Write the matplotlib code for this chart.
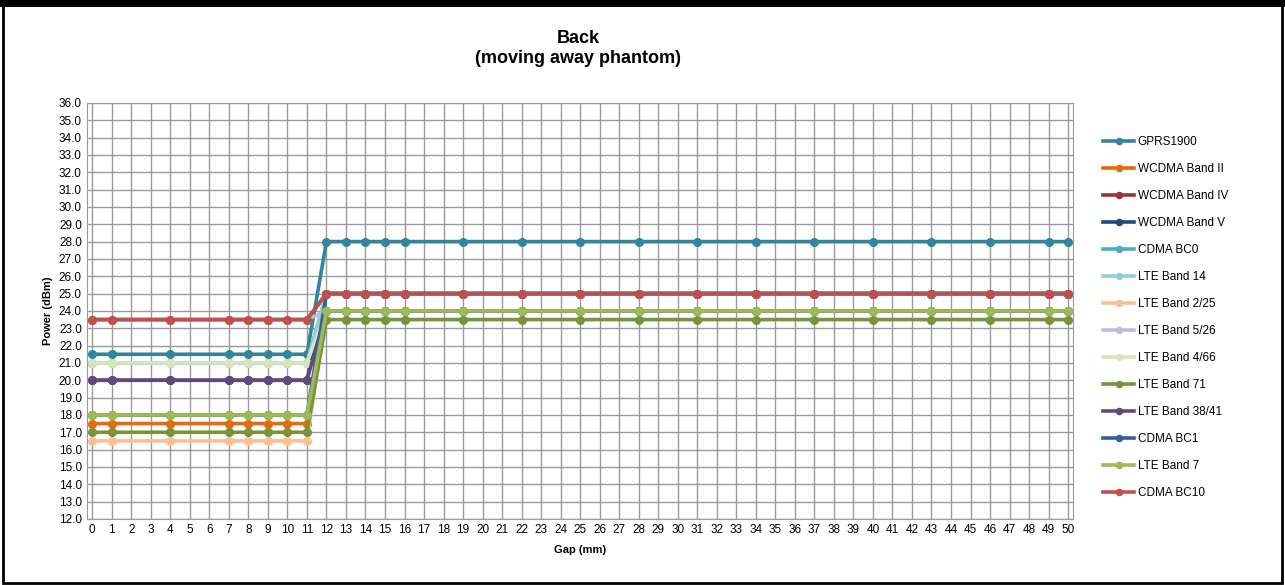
import matplotlib.pyplot as plt
from matplotlib.patches import Rectangle

plt.rcParams['font.family'] = ['Liberation Sans', 'DejaVu Sans']

gap = [0, 1, 4, 7, 8, 9, 10, 11, 12, 13, 14, 15, 16, 19, 22, 25, 28, 31, 34, 37, 40, 43, 46, 49, 50]
n_near = 8  # points at gap 0..11
n_far = len(gap) - n_near

series_names = ["GPRS1900", "WCDMA Band II", "WCDMA Band IV", "WCDMA Band V", "CDMA BC0",
                "LTE Band 14", "LTE Band 2/25", "LTE Band 5/26", "LTE Band 4/66", "LTE Band 71",
                "LTE Band 38/41", "CDMA BC1", "LTE Band 7", "CDMA BC10"]
near_power = [21.5, 17.5, 23.5, 20.0, 21.0, 21.0, 16.5, 23.5, 21.0, 17.0, 20.0, 18.0, 18.0, 23.5]
far_power = [28.0, 24.0, 25.0, 25.0, 25.0, 25.0, 24.0, 24.0, 24.0, 23.5, 24.0, 25.0, 24.0, 25.0]
colors = ["#31859C", "#E46C0A", "#953735", "#1F497D", "#4BACC6", "#93CDDD", "#FAC090",
          "#B9C0D6", "#D7E4BD", "#77933C", "#604A7B", "#376092", "#9BBB59", "#C0504D"]

fig = plt.figure(figsize=(12.85, 5.85), dpi=100)
ax = fig.add_axes([0.068, 0.113, 0.767, 0.711])

for name, a, b, c in zip(series_names, near_power, far_power, colors):
    vals = [a] * n_near + [b] * n_far
    ax.plot(gap, vals, color=c, lw=2.6, marker='o', ms=5.5, label=name)

ax.set_xlim(-0.25, 50.25)
ax.set_ylim(12, 36)
ax.set_xticks(range(0, 51))
ax.set_yticks([12 + i for i in range(25)])
ax.set_yticklabels(["%.1f" % (12 + i) for i in range(25)])
ax.tick_params(labelsize=8.5, length=0, pad=4)
ax.grid(True, color='#9a9a9a', lw=1)
ax.set_axisbelow(True)
for s in ax.spines.values():
    s.set_color('#9a9a9a')

ax.set_xlabel("Gap (mm)", fontsize=8, fontweight='bold', labelpad=6)
ax.set_ylabel("Power (dBm)", fontsize=8, fontweight='bold', labelpad=4)
fig.text(0.45, 0.935, "Back", ha='center', va='center', fontsize=13, fontweight='bold')
fig.text(0.45, 0.9, "(moving away phantom)", ha='center', va='center', fontsize=13, fontweight='bold')

ax.legend(loc='upper left', bbox_to_anchor=(1.02, 0.945), frameon=False, fontsize=8.5,
          labelspacing=1.27, handlelength=2.6, handletextpad=0.3, markerscale=0.8)

fig.patches.append(Rectangle((0.002, 0.003), 0.996, 0.99, transform=fig.transFigure,
                             fill=False, edgecolor='black', lw=2))
fig.patches.append(Rectangle((0, 0.988), 1, 0.012, transform=fig.transFigure,
                             facecolor='black', edgecolor='none'))

fig.savefig("out.png", dpi=100)
